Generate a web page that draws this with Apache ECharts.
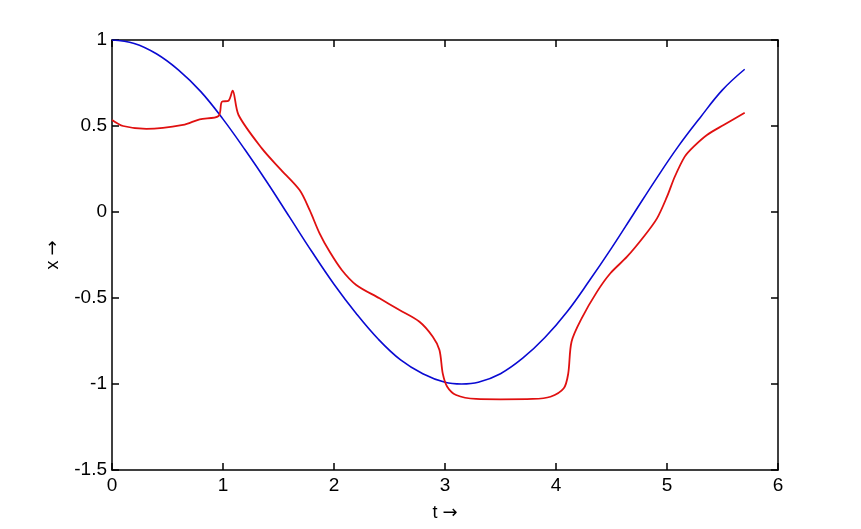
<!DOCTYPE html>
<html>
<head>
<meta charset="utf-8">
<script src="https://cdn.jsdelivr.net/npm/echarts@6/dist/echarts.min.js"></script>
<style>
  html, body { margin: 0; padding: 0; background: #fff; }
  #chart { width: 861px; height: 529px; }
</style>
</head>
<body>
<div id="chart"></div>
<script>
// values
const tBlue = [0, 0.2, 0.4, 0.6, 0.8, 1.0, 1.2, 1.4, 1.6, 1.8, 2.0, 2.2, 2.4, 2.6, 2.8, 3.0, 3.15, 3.3, 3.5, 3.7, 3.9, 4.1, 4.3, 4.5, 4.7, 4.9, 5.1, 5.3, 5.5, 5.7]
const xBlue = [1.0, 0.98, 0.92, 0.825, 0.70, 0.54, 0.36, 0.17, -0.03, -0.23, -0.42, -0.59, -0.74, -0.86, -0.94, -0.99, -1.0, -0.99, -0.94, -0.85, -0.73, -0.58, -0.40, -0.21, -0.01, 0.19, 0.38, 0.55, 0.71, 0.83]

const tRed = [0, 0.1, 0.31, 0.64, 0.79, 0.96, 0.99, 1.05, 1.087, 1.14, 1.35, 1.51, 1.69, 1.78, 1.87, 1.96, 2.07, 2.2, 2.41, 2.59, 2.77, 2.89, 2.95, 2.98, 3.02, 3.1, 3.28, 3.5, 3.79, 3.95, 4.07, 4.11, 4.14, 4.23, 4.37, 4.49, 4.64, 4.79, 4.91, 5.0, 5.07, 5.16, 5.24, 5.36, 5.51, 5.7]
const xRed = [0.535, 0.5, 0.483, 0.506, 0.539, 0.558, 0.641, 0.647, 0.705, 0.564, 0.37, 0.254, 0.128, 0.012, -0.124, -0.23, -0.337, -0.424, -0.502, -0.57, -0.638, -0.725, -0.802, -0.94, -1.016, -1.064, -1.087, -1.089, -1.087, -1.074, -1.025, -0.94, -0.754, -0.62, -0.463, -0.356, -0.26, -0.144, -0.037, 0.089, 0.205, 0.322, 0.38, 0.448, 0.506, 0.577]

const xTicks = [0, 1, 2, 3, 4, 5, 6]
const yTicks = [-1.5, -1, -0.5, 0, 0.5, 1]

const zip = (a, b) => a.map((v, i) => [v, b[i]])

const chart = echarts.init(document.getElementById('chart'))
const font = 'Liberation Sans, Arial, sans-serif'

// 坐标轴样式
const axisLine = { show: true, onZero: false, lineStyle: { color: '#000', width: 1.5 } }
const tick = { show: true, inside: true, length: 7, lineStyle: { color: '#000', width: 1.5 } }
const nameStyle = {
  color: '#000', fontSize: 18, fontFamily: font,
  rich: { ar: { fontFamily: 'DejaVu Sans', fontSize: 18, color: '#000' } }
}

const option = {
  backgroundColor: '#fff',
  animation: false,
  grid: { left: 112, right: 83, top: 40, bottom: 59 },
  xAxis: [
    {
      type: 'value', min: xTicks[0], max: xTicks[xTicks.length - 1], interval: 1,
      axisLine, axisTick: tick, splitLine: { show: false },
      axisLabel: { color: '#000', fontSize: 19, fontFamily: font, margin: 6 },
      name: 't {ar|\u2192}', nameLocation: 'middle', nameGap: 34,
      nameTextStyle: nameStyle
    },
    {
      type: 'value', min: xTicks[0], max: xTicks[xTicks.length - 1], interval: 1, position: 'top',
      axisLine, axisTick: tick, axisLabel: { show: false }, splitLine: { show: false }
    }
  ],
  yAxis: [
    {
      type: 'value', min: yTicks[0], max: yTicks[yTicks.length - 1], interval: 0.5,
      axisLine, axisTick: tick, splitLine: { show: false },
      axisLabel: { color: '#000', fontSize: 19, fontFamily: font, margin: 5 },
      name: 'x {ar|\u2192}', nameLocation: 'middle', nameGap: 50,
      nameTextStyle: nameStyle
    },
    {
      type: 'value', min: yTicks[0], max: yTicks[yTicks.length - 1], interval: 0.5, position: 'right',
      axisLine, axisTick: tick, axisLabel: { show: false }, splitLine: { show: false }
    }
  ],
  series: [
    {
      type: 'line', data: zip(tBlue, xBlue), smooth: 0.4, symbol: 'none',
      lineStyle: { color: '#0a0ad2', width: 1.6 }
    },
    {
      type: 'line', data: zip(tRed, xRed), smooth: 0.3, symbol: 'none',
      lineStyle: { color: '#e01010', width: 1.8 }
    }
  ]
}
chart.setOption(option)
</script>
</body>
</html>
